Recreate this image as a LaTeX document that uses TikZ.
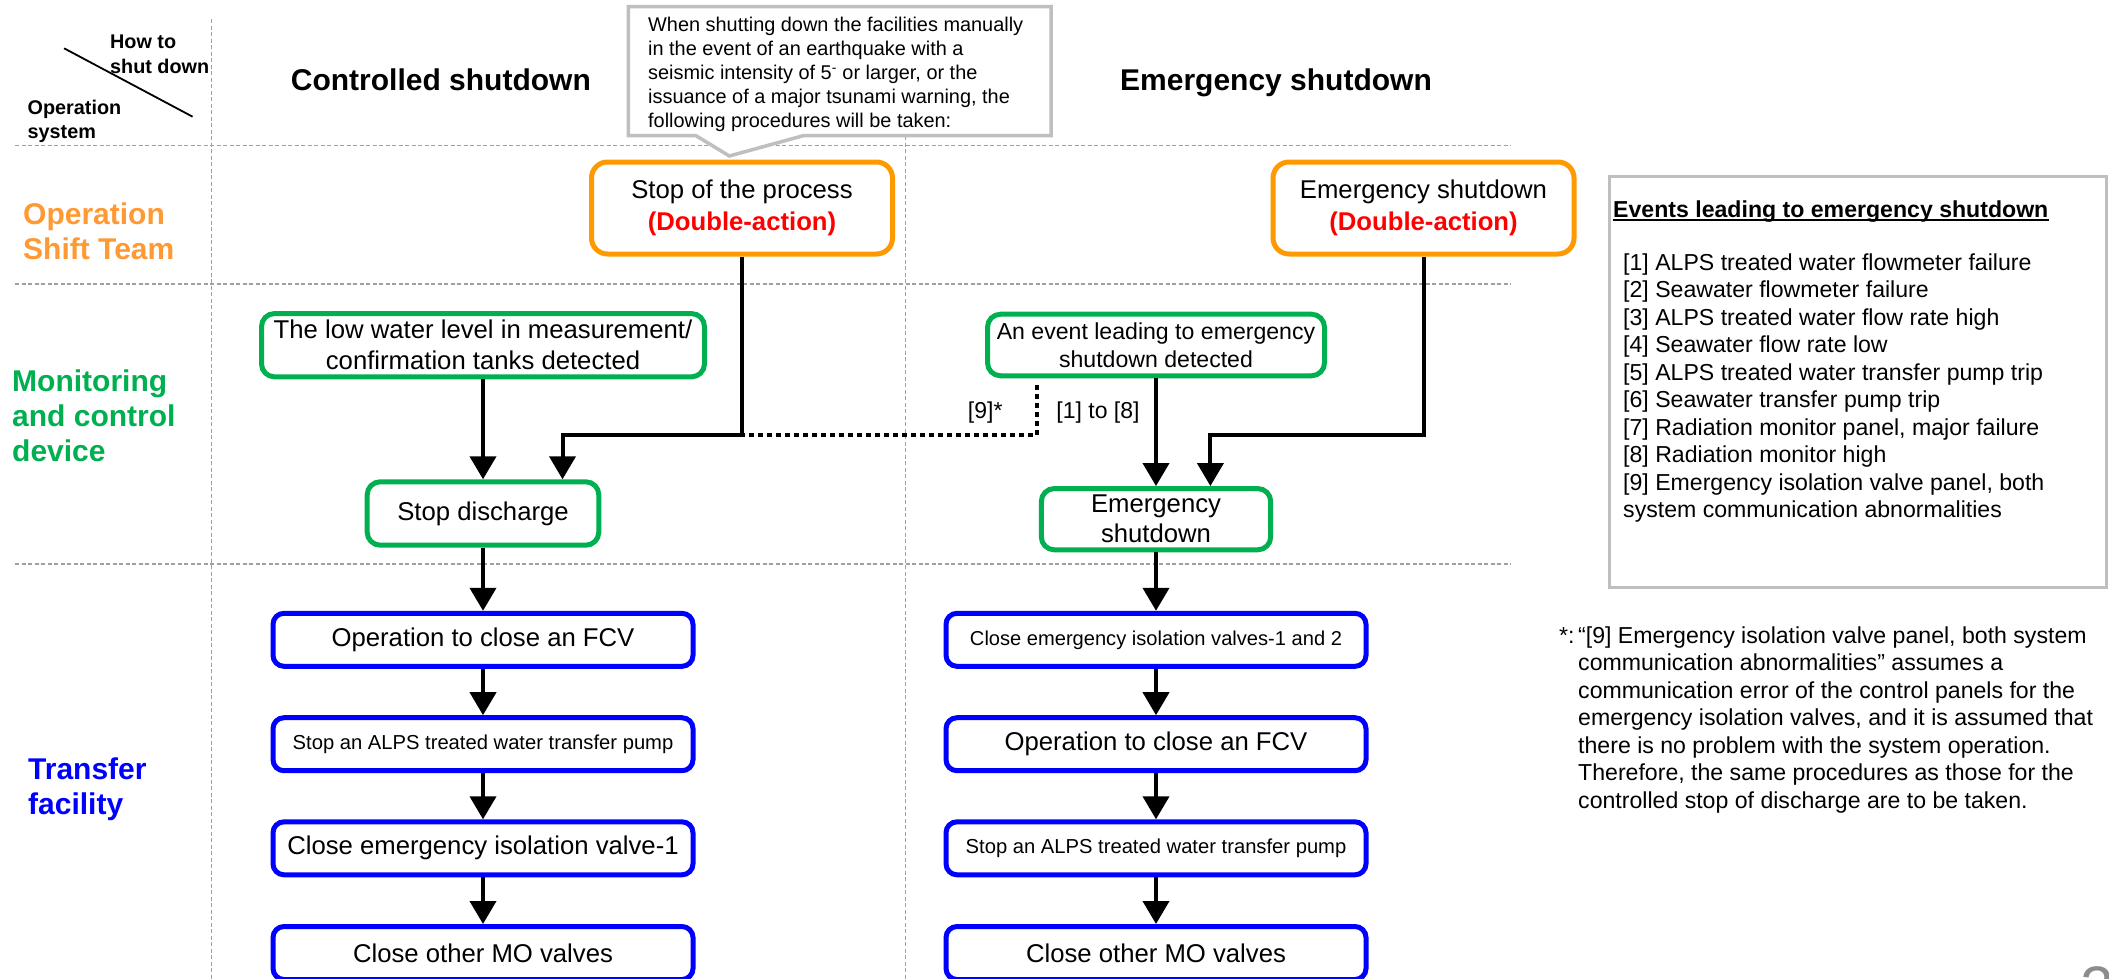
\documentclass[tikz,border=0pt]{standalone}
\usepackage{fontspec}
\setmainfont{Liberation Sans}
\usetikzlibrary{arrows.meta}
\definecolor{opOrange}{HTML}{FF9900}
\definecolor{opOrangeText}{HTML}{FF9933}
\definecolor{mcGreen}{HTML}{00B050}
\definecolor{tfBlue}{HTML}{0000FF}
\definecolor{daRed}{HTML}{FF0000}
\definecolor{frameGray}{HTML}{BFBFBF}
\definecolor{gridGray}{HTML}{A0A0A0}
\definecolor{pageGray}{HTML}{8C8C8C}
\newcommand\fsz[2]{\fontsize{#1}{#2}\selectfont}
\begin{document}
\begin{tikzpicture}[x=1pt,y=-1pt,
  gridline/.style={draw=gridGray,line width=1.2pt,dash pattern=on 4pt off 2.5pt},
  plaintext/.style={inner sep=0pt,anchor=base west},
  cellhead/.style={plaintext,font=\bfseries\fsz{19.8}{24}},
  colhead/.style={inner sep=0pt,anchor=base,font=\bfseries\fsz{30}{35}},
  rowhead/.style={plaintext,font=\bfseries\fsz{30}{35}},
  flowbox/.style={rectangle,fill=white,line width=5pt,align=center,inner sep=0pt,font=\fsz{25.7}{31}},
  obox/.style={flowbox,draw=opOrange,rounded corners=16pt,minimum width=301pt,minimum height=92pt,font=\fsz{25.7}{31.7}},
  gbox/.style={flowbox,draw=mcGreen,rounded corners=13pt},
  bluebox/.style={flowbox,draw=tfBlue,rounded corners=11pt,minimum width=420pt,minimum height=53pt},
  conn/.style={line width=4pt,-{Triangle[width=26pt,length=23pt]}},
  dotconn/.style={line width=4pt,dash pattern=on 4.5pt off 4.5pt},
  notetext/.style={plaintext,font=\fsz{19.9}{24.2}},
  legtext/.style={plaintext,font=\fsz{23.1}{27.5}},
  edgelabel/.style={inner sep=0pt,anchor=base,font=\fsz{23}{27}}
]
\useasboundingbox (0,0) rectangle (2109,979);
\clip (0,0) rectangle (2109,979);
\fill[white] (0,0) rectangle (2109,979);

% table grid
\draw[gridline] (211.5,19.3) -- (211.5,979);
\draw[gridline] (905.5,19.3) -- (905.5,979);
\foreach \gy in {145.7,284,564} \draw[gridline] (15,\gy) -- (1511,\gy);

% corner cell
\draw[line width=1.8pt] (64.1,48.3) -- (192.6,116.7);
\node[cellhead] (hhow) at (110,48.8) {How to};
\node[cellhead] (hshut) at (110,73.8) {shut down};
\node[cellhead] (hop) at (27.5,114.4) {Operation};
\node[cellhead] (hsys) at (27.5,138.8) {system};

% column headings
\node[colhead] (hctrl) at (440.9,90.8) {Controlled shutdown};
\node[colhead] (hemer) at (1276,90.8) {Emergency shutdown};

% row headings
\node[rowhead,text=opOrangeText] (rop1) at (23,224.1) {Operation};
\node[rowhead,text=opOrangeText] (rop2) at (23,259.1) {Shift Team};
\node[rowhead,text=mcGreen] (rmc1) at (12,391.3) {Monitoring};
\node[rowhead,text=mcGreen] (rmc2) at (12,426.4) {and control};
\node[rowhead,text=mcGreen] (rmc3) at (12,461.4) {device};
\node[rowhead,text=tfBlue] (rtf1) at (28,779) {Transfer};
\node[rowhead,text=tfBlue] (rtf2) at (28,814.7) {facility};

% speech bubble above the controlled shutdown trigger
\draw[draw=frameGray,line width=3.5pt,fill=white] (628.3,6.7) -- (1051.2,6.7) -- (1051.2,135.7)
  -- (803.2,135.7) -- (729.3,156) -- (696,135.7) -- (628.3,135.7) -- cycle;
\node[notetext] (n1) at (648,31.2) {When shutting down the facilities manually};
\node[notetext] (n2) at (648,55.4) {in the event of an earthquake with a};
\node[notetext] (n3) at (648,79.6) {seismic intensity of 5\textsuperscript{-} or larger, or the};
\node[notetext] (n4) at (648,103.8) {issuance of a major tsunami warning, the};
\node[notetext] (n5) at (648,128.0) {following procedures will be taken:};

% operation shift team
\node[obox] (stopproc) at (742,208) {Stop of the process\\\textcolor{daRed}{\bfseries (Double-action)}};
\node[obox] (emstop) at (1423.5,208) {Emergency shutdown\\\textcolor{daRed}{\bfseries (Double-action)}};

% monitoring and control device
\node[gbox,minimum width=443pt,minimum height=63.3pt] (lowlevel) at (483,345.2)
  {The low water level in measurement/\\confirmation tanks detected};
\node[gbox,minimum width=337pt,minimum height=61.6pt,font=\fsz{23.1}{27.7}] (evdet) at (1156,345)
  {An event leading to emergency\\shutdown detected};
\node[gbox,minimum width=231.6pt,minimum height=63.4pt] (stopdis) at (483,513.5) {Stop discharge};
\node[gbox,minimum width=229.4pt,minimum height=61.3pt,font=\fsz{25.7}{30}] (emsd) at (1156,519.2) {Emergency\\shutdown};

% transfer facility, controlled shutdown
\node[bluebox] (lb1) at (483,639.8) {Operation to close an FCV};
\node[bluebox,font=\fsz{20.2}{24}] (lb2) at (483,744.2) {Stop an ALPS treated water transfer pump};
\node[bluebox] (lb3) at (483,848.3) {Close emergency isolation valve-1};
\node[bluebox] (lb4) at (483,953) {Close other MO valves};

% transfer facility, emergency shutdown
\node[bluebox,font=\fsz{20.1}{24}] (rb1) at (1156,639.8) {Close emergency isolation valves-1 and 2};
\node[bluebox] (rb2) at (1156,744.2) {Operation to close an FCV};
\node[bluebox,font=\fsz{20.2}{24}] (rb3) at (1156,848.3) {Stop an ALPS treated water transfer pump};
\node[bluebox] (rb4) at (1156,953) {Close other MO valves};

% connectors
\coordinate (jc) at (562.5,435);
\coordinate (je) at (1210.4,435);
\coordinate (dstart) at (1036.6,385);
\draw[dotconn] (dstart) |- (stopproc.south |- jc);
\draw[conn] (lowlevel) -- (stopdis);
\draw[conn] (stopproc.south) |- (jc) -- (jc |- stopdis.north);
\draw[conn] (evdet) -- (emsd);
\draw[conn] (emstop.south) |- (je) -- (je |- emsd.north);
\draw[conn] (stopdis) -- (lb1);
\draw[conn] (lb1) -- (lb2);
\draw[conn] (lb2) -- (lb3);
\draw[conn] (lb3) -- (lb4);
\draw[conn] (emsd) -- (rb1);
\draw[conn] (rb1) -- (rb2);
\draw[conn] (rb2) -- (rb3);
\draw[conn] (rb3) -- (rb4);
\node[edgelabel] (l9) at (985.2,418.3) {[9]*};
\node[edgelabel] (l18) at (1098,418.3) {[1] to [8]};

% list of events
\draw[draw=frameGray,line width=3pt,fill=white] (1609,176.7) rectangle (2106,587.7);
\node[legtext,font=\bfseries\fsz{23.1}{27.5}] (legtitle) at (1613,217.3) {Events leading to emergency shutdown};
\draw[line width=1.7pt] ([yshift=-2.4pt]legtitle.base west) -- ([yshift=-2.4pt]legtitle.base east);
\foreach \evtext [count=\i] in {
  {[1] ALPS treated water flowmeter failure},
  {[2] Seawater flowmeter failure},
  {[3] ALPS treated water flow rate high},
  {[4] Seawater flow rate low},
  {[5] ALPS treated water transfer pump trip},
  {[6] Seawater transfer pump trip},
  {[7] Radiation monitor panel, major failure},
  {[8] Radiation monitor high},
  {[9] Emergency isolation valve panel, both},
  {system communication abnormalities}}
  \node[legtext] (ev\i) at (1623,{270.4+27.48*(\i-1)}) {\evtext};

% footnote
\node[legtext] (fnmark) at (1559,643.3) {*:};
\foreach \fntext [count=\i] in {
  {“[9] Emergency isolation valve panel, both system},
  {communication abnormalities” assumes a},
  {communication error of the control panels for the},
  {emergency isolation valves, and it is assumed that},
  {there is no problem with the system operation.},
  {Therefore, the same procedures as those for the},
  {controlled stop of discharge are to be taken.}}
  \node[legtext] (fn\i) at (1578,{643.3+27.5*(\i-1)}) {\fntext};

% page number
\node[plaintext,font=\fsz{60}{60},text=pageGray] (pgno) at (2080,1008) {2};
\end{tikzpicture}
\end{document}
